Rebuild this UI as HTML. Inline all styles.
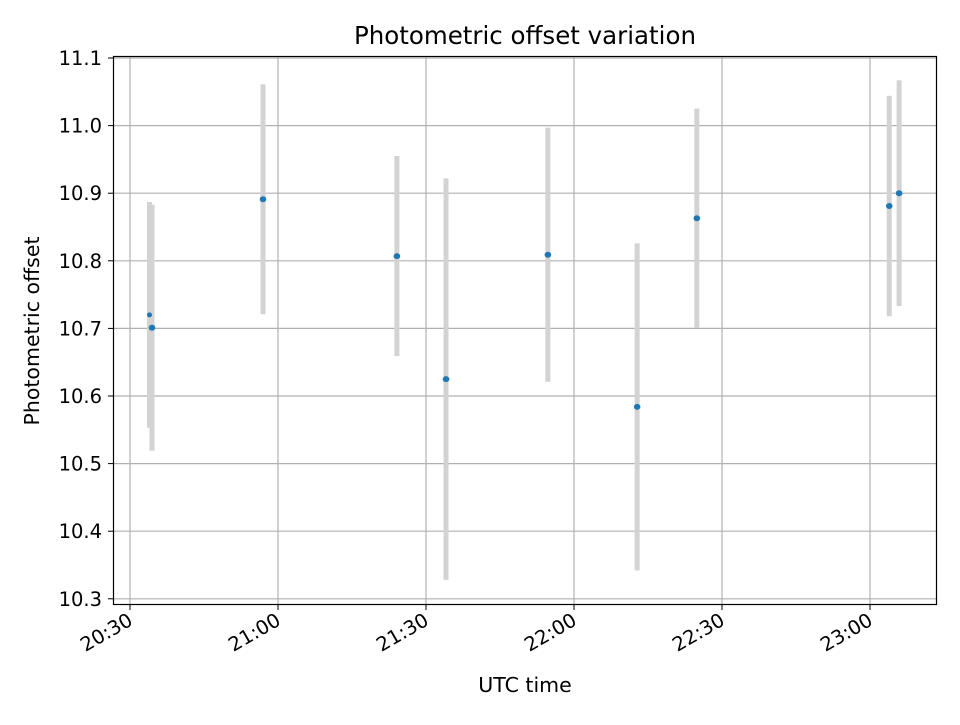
<!DOCTYPE html>
<html><head><meta charset="utf-8"><style>
body{margin:0;background:#fff;font-family:"Liberation Sans","DejaVu Sans",sans-serif}
svg text{font-family:"DejaVu Sans","Liberation Sans",sans-serif;fill:#000}
</style></head><body>
<svg id="chart" width="960" height="720">
<text x="525" y="44" font-size="24.5" text-anchor="middle">Photometric offset variation</text>
<g id="grid"></g><g id="bars"></g><g id="pts"></g><g id="ticks"></g>
<rect x="113.5" y="56.5" width="823" height="548" fill="none" stroke="#000" stroke-width="1.2"/>
<text x="525" y="692" font-size="20.5" text-anchor="middle">UTC time</text>
<text transform="translate(39,331) rotate(-90)" font-size="20.5" text-anchor="middle">Photometric offset</text>
</svg>
<script>
// minutes after 20:30 UTC
const times=[3.95,4.46,26.96,54.1,64.06,84.7,102.8,114.9,153.9,155.9];
const values=[10.720,10.701,10.891,10.807,10.625,10.809,10.584,10.863,10.881,10.900];
const errors=[0.167,0.182,0.170,0.148,0.297,0.188,0.242,0.162,0.163,0.167];
const yTicks=[10.3,10.4,10.5,10.6,10.7,10.8,10.9,11.0,11.1];
const xTickMin=[0,30,60,90,120,150];
const xTickLabels=["20:30","21:00","21:30","22:00","22:30","23:00"];
const NS="http://www.w3.org/2000/svg";
const X=m=>130+m*(148/30);
const Y=v=>58+(11.1-v)*676;
function mk(tag,attrs,parent){const e=document.createElementNS(NS,tag);for(const k in attrs)e.setAttribute(k,attrs[k]);document.getElementById(parent).appendChild(e);return e;}
yTicks.forEach((t,i)=>{const y=Y(t);
 const g=mk('line',{x1:113,x2:937,y1:y,y2:y,stroke:'#b0b0b0','stroke-width':1.2},'grid');
 
 
 const tk=mk('line',{x1:108,x2:113,y1:y,y2:y,stroke:'#000','stroke-width':1},'ticks');
 
 
 const tx=mk('text',{x:102,y:y+7,'font-size':19.5,'text-anchor':'end'},'ticks');
 tx.textContent=t.toFixed(1);
 
 
});
xTickMin.forEach((m,i)=>{const x=X(m);
 const g=mk('line',{x1:x,x2:x,y1:56,y2:605,stroke:'#b0b0b0','stroke-width':1.2},'grid');
 
 
 const tk=mk('line',{x1:x,x2:x,y1:605,y2:610,stroke:'#000','stroke-width':1},'ticks');
 
 
 const tx=mk('text',{x:x+4,y:624,'font-size':19.5,'text-anchor':'end',transform:`rotate(-30 ${x+4} 624)`},'ticks');
 tx.textContent=xTickLabels[i];
 
 
});
times.forEach((t,i)=>{const x=X(t);
 const b=mk('rect',{x:x-2.5,y:Y(values[i]+errors[i]),width:5,height:Y(values[i]-errors[i])-Y(values[i]+errors[i]),fill:'#d3d3d3'},'bars');
 
 
 const p=mk('ellipse',{cx:x,cy:Y(values[i]),rx:i==0?2.5:3.3,ry:i==0?2.5:3,fill:'#1f77b4'},'pts');
 
 
});
</script>
</body></html>
